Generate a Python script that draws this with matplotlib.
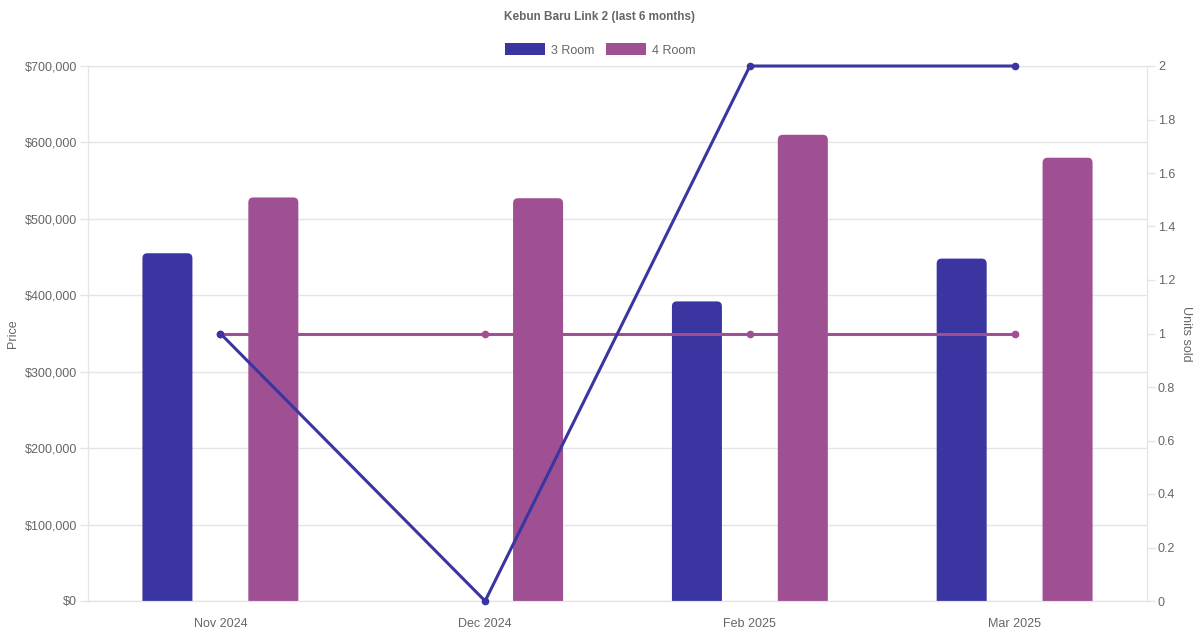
import numpy as np
import matplotlib.pyplot as plt
from matplotlib.ticker import FuncFormatter
from matplotlib.patches import Patch, FancyBboxPatch

plt.rcParams['font.family'] = ['Liberation Sans', 'DejaVu Sans']

# data
months = ['Nov 2024', 'Dec 2024', 'Feb 2025', 'Mar 2025']
price_3rm = [455000, np.nan, 392000, 448000]
price_4rm = [528000, 527000, 610000, 580000]
units_3rm = [1, 0, 2, 2]
units_4rm = [1, 1, 1, 1]

colors = {'3rm': '#3a35a0', '4rm': '#9e5092'}
txt = '#666666'
grid = '#e5e5e5'

fig = plt.figure(figsize=(12, 6.3), dpi=100)
ax = fig.add_axes([88 / 1200, 29 / 630, (1147 - 88) / 1200, (601 - 66) / 630])
ax2 = ax.twinx()

x = np.arange(len(months))
bw = 50 / 264.75
off = 0.2

ax.set_xlim(-0.5, 3.5)
ax.set_ylim(0, 700000)
ax2.set_ylim(0, 2)

bars3 = ax.bar(x - off, price_3rm, width=bw, color=colors['3rm'], zorder=2)
bars4 = ax.bar(x + off, price_4rm, width=bw, color=colors['4rm'], zorder=2)

# swap plain bars for ones with rounded tops (corners in pixels)
for bars, key in ((bars3, '3rm'), (bars4, '4rm')):
    for b in bars:
        h = b.get_height()
        if not np.isfinite(h) or h <= 0:
            b.set_visible(False)
            continue
        x0, y0 = ax.transData.transform((b.get_x(), 0))
        x1, y1 = ax.transData.transform((b.get_x() + b.get_width(), h))
        rb = FancyBboxPatch((x0, y0 - 10), x1 - x0, y1 - y0 + 10,
                            boxstyle='round,pad=0,rounding_size=5',
                            transform=None, facecolor=colors[key],
                            edgecolor='none', zorder=2)
        ax.add_patch(rb)
        rb.set_clip_path(ax.patch)
        b.set_visible(False)

ax2.plot(x, units_4rm, color=colors['4rm'], lw=2.2, marker='o', ms=4.5, zorder=3, clip_on=False)
ax2.plot(x, units_3rm, color=colors['3rm'], lw=2.2, marker='o', ms=4.5, zorder=4, clip_on=False)

ax.set_yticks(np.arange(0, 700001, 100000))
ax.yaxis.set_major_formatter(FuncFormatter(lambda v, p: '${:,.0f}'.format(v)))
ax2.set_yticks(np.arange(0, 2.01, 0.2))
ax2.yaxis.set_major_formatter(FuncFormatter(lambda v, p: '{:g}'.format(round(v, 1))))

ax.set_xticks(x)
ax.set_xticklabels(months)
ax.grid(axis='y', color=grid, lw=1, zorder=0)
ax.set_axisbelow(True)

for a in (ax, ax2):
    for s in a.spines.values():
        s.set_color(grid)
    a.tick_params(colors=txt, labelsize=9, length=5.8, width=1, pad=2)
    a.tick_params(axis='both', color=grid)
ax.spines['bottom'].set_color('#cccccc')
ax.tick_params(axis='x', length=0, pad=12)

ax.set_ylabel('Price', color=txt, fontsize=9, labelpad=4)
ax2.set_ylabel('Units sold', color=txt, fontsize=9, rotation=270, labelpad=12)

fig.text(0.5, 1 - 17 / 630, 'Kebun Baru Link 2 (last 6 months)', ha='center', va='center',
         fontsize=8.5, fontweight='bold', color=txt)

handles = [Patch(facecolor=colors['3rm'], label='3 Room'),
           Patch(facecolor=colors['4rm'], label='4 Room')]
fig.legend(handles=handles, loc='center', bbox_to_anchor=(0.5, 1 - 50 / 630), ncol=2,
           frameon=False, fontsize=9, labelcolor=txt, handlelength=3.2, handleheight=1.1,
           columnspacing=0.9, handletextpad=0.5)

fig.savefig('out.png', dpi=100)
